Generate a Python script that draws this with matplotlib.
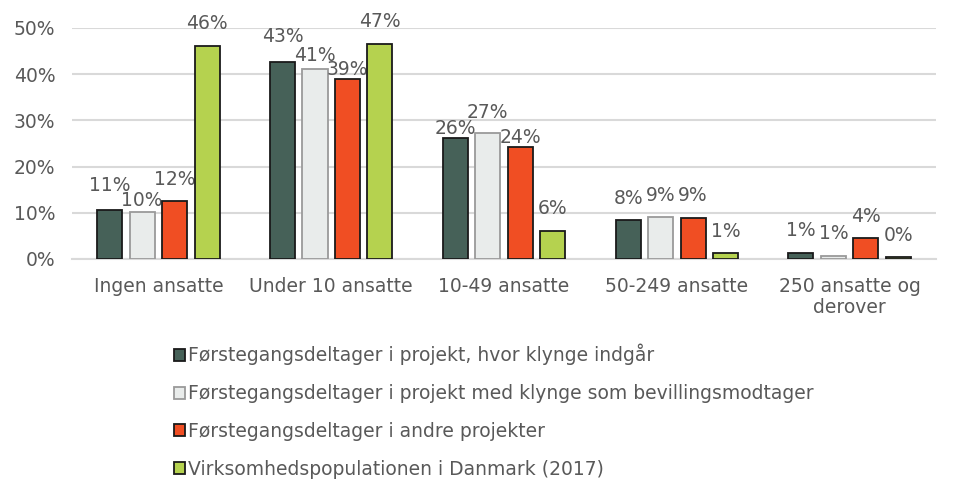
import numpy as np
import matplotlib
matplotlib.use("Agg")
import matplotlib.pyplot as plt

# Data: share of firms per size class (in %)
kategorier = ["Ingen ansatte", "Under 10 ansatte", "10-49 ansatte",
              "50-249 ansatte", "250 ansatte og\nderover"]
serier = [
    "Førstegangsdeltager i projekt, hvor klynge indgår",
    "Førstegangsdeltager i projekt med klynge som bevillingsmodtager",
    "Førstegangsdeltager i andre projekter",
    "Virksomhedspopulationen i Danmark (2017)",
]
klynge_indgaar = [10.6, 42.7, 26.1, 8.4, 1.4]
klynge_bevilling = [10.2, 41.2, 27.2, 9.1, 0.7]
andre_projekter = [12.5, 39.0, 24.3, 8.9, 4.5]
population_2017 = [46.2, 46.6, 6.1, 1.2, 0.4]

vaerdier = [klynge_indgaar, klynge_bevilling, andre_projekter, population_2017]
farver = ["#466158", "#e9eceb", "#f04e23", "#b5d24f"]
kanter = ["#1a1a1a", "#9a9a9a", "#1a1a1a", "#1a1a1a"]

# label distance above bar (points), staggered where neighbours collide
afstand_label = [
    [10.5, 11.2, 0.0, 9.0, 9.0],
    [1.1, 2.6, 8.3, 8.3, 9.0],
    [9.0, 0.0, 0.0, 9.0, 9.0],
    [9.0, 9.0, 9.0, 9.0, 9.0],
]

tekstfarve = "#595959"
plt.rcParams["font.family"] = "DejaVu Sans"

fig = plt.figure(figsize=(9.68, 4.82), dpi=100)
ax = fig.add_axes([0.0744, 0.4627, 0.8926, 0.4793])

x = np.arange(len(kategorier))
bredde = 0.145
afstand = 0.188

for i, (navn, v) in enumerate(zip(serier, vaerdier)):
    pos = x + (i - 1.5) * afstand
    bars = ax.bar(pos, v, width=bredde, color=farver[i], edgecolor=kanter[i],
                  linewidth=1.3, label=navn, zorder=3)
    for j, (b, val) in enumerate(zip(bars, v)):
        ax.annotate(f"{val:.0f}%", (b.get_x() + b.get_width() / 2, val),
                    xytext=(0, afstand_label[i][j]), textcoords="offset points",
                    ha="center", va="bottom", fontsize=13.5, color=tekstfarve)

ax.set_xlim(-0.5, len(kategorier) - 0.5)
ax.set_ylim(0, 50)
ax.set_yticks(np.arange(0, 51, 10))
ax.set_yticklabels([f"{t}%" for t in range(0, 51, 10)])
ax.set_xticks(x)
ax.set_xticklabels(kategorier, linespacing=1.15)
ax.tick_params(axis="both", length=0, labelsize=13.5, labelcolor=tekstfarve)
ax.tick_params(axis="y", pad=12)
ax.tick_params(axis="x", pad=13)

ax.grid(axis="y", color="#d9d9d9", linewidth=1.5, zorder=0)
for s in ["top", "right", "left"]:
    ax.spines[s].set_visible(False)
ax.spines["bottom"].set_color("#d9d9d9")
ax.spines["bottom"].set_linewidth(1.5)

fig.legend(loc="upper left", bbox_to_anchor=(0.172, 0.302), frameon=False,
           fontsize=13.5, labelcolor=tekstfarve, handlelength=0.6,
           handleheight=0.6, handletextpad=0.15, labelspacing=1.0,
           borderaxespad=0)

fig.savefig("out.png", dpi=100)
